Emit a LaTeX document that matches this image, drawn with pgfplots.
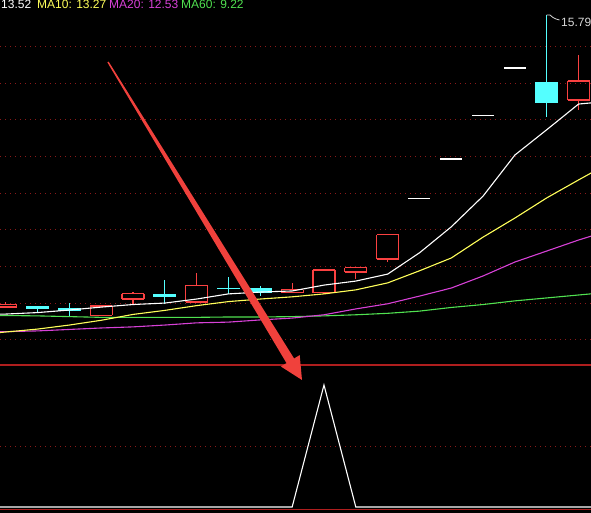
\documentclass[border=0pt]{standalone}
\usepackage{pgfplots}
\pgfplotsset{compat=1.18}
\usepackage{pgfplotstable}
\usepackage{fontspec}
\setmainfont{Liberation Sans}

\definecolor{upred}{RGB}{250,65,65}
\definecolor{downcyan}{RGB}{84,255,255}
\definecolor{gridred}{RGB}{140,25,25}
\definecolor{sepred}{RGB}{175,30,30}
\definecolor{maten}{RGB}{255,255,90}
\definecolor{matwenty}{RGB}{215,65,215}
\definecolor{masixty}{RGB}{80,225,80}
\definecolor{arrowred}{RGB}{240,65,60}
\definecolor{hilabel}{RGB}{215,215,215}

% daily candles: index, open, high, low, close
\pgfplotstableread{
i  O     H     L     C
0  7.82  7.96  7.82  7.90
3  7.60  7.85  7.60  7.85
4  8.04  8.23  7.88  8.18
6  7.96  8.75  7.96  8.42
9  8.21  8.48  8.21  8.29
10 8.21  8.83  8.18  8.83
11 8.78  8.89  8.59  8.89
12 9.13  9.80  9.05  9.80
18 13.47 14.70 13.20 13.99
}\upcandles

\pgfplotstableread{
i  O     H     L     C
1  7.85  7.85  7.66  7.77
2  7.80  7.93  7.58  7.71
5  8.18  8.56  7.91  8.10
7  8.34  8.64  8.18  8.31
8  8.34  8.40  8.13  8.21
17 13.96 15.79 13.01 13.39
}\downcandles

% one-price limit-up days
\pgfplotstableread{
i  P
13 10.78
14 11.86
15 13.05
16 14.35
}\flatcandles

% moving averages
\pgfplotstableread{
i  ma5   ma10  ma20  ma60
-1 7.61  7.06  7.14  7.60
0  7.63  7.14  7.15  7.59
1  7.67  7.22  7.17  7.58
2  7.74  7.33  7.21  7.56
3  7.82  7.46  7.25  7.54
4  7.89  7.62  7.28  7.54
5  7.93  7.73  7.33  7.54
6  8.04  7.86  7.39  7.54
7  8.18  7.97  7.41  7.55
8  8.23  8.04  7.47  7.55
9  8.26  8.10  7.52  7.56
10 8.42  8.18  7.61  7.58
11 8.53  8.29  7.77  7.61
12 8.72  8.48  7.91  7.65
13 9.30  8.81  8.12  7.71
14 10.01 9.16  8.34  7.81
15 10.85 9.73  8.67  7.89
16 11.97 10.25 9.05  7.99
17 12.66 10.80 9.35  8.07
18 13.36 11.29 9.65  8.15
19 13.44 11.77 9.92  8.23
}\malines

\pgfplotsset{
  panel/.style={
    scale only axis, width=591bp,
    xmin=-0.179, xmax=18.39, xtick=\empty,
    axis line style={draw=none}, major tick length=0pt,
    ymajorticks=false,
    ymajorgrids,
    major grid style={draw=gridred, line width=0.8bp, dash pattern=on 1bp off 4bp},
  },
  % vertical stroke from y upward by the y error
  vbar/.style 2 args={draw=none, mark=none, error bars/.cd, y dir=plus, y explicit,
    error mark=none, error bar style={draw=#1, line width=#2}},
  % horizontal stroke across the candle width
  hbar/.style 2 args={draw=none, mark=none, error bars/.cd, x dir=both, x fixed=0.345,
    error mark=none, error bar style={draw=#1, line width=#2}},
}

\begin{document}
\begin{tikzpicture}
\fill[black] (0,0) rectangle (591bp,513bp);

% price panel
\begin{axis}[panel, at={(0bp,148bp)}, anchor=south west, height=365bp,
  ymin=6.240, ymax=16.199,
  ytick={6.950,7.932,8.942,9.951,10.933,11.943,12.952,13.935,14.944}]

% rising candles: shadows below and above a hollow body
\addplot[vbar={upred}{1.2bp}]
  table[x=i, y=L, y error plus expr=\thisrow{O}-\thisrow{L}] {\upcandles};
\addplot[vbar={upred}{1.2bp}]
  table[x=i, y=C, y error plus expr=\thisrow{H}-\thisrow{C}] {\upcandles};
\addplot[vbar={upred}{1.2bp}]
  table[x expr=\thisrow{i}-0.345, y=O, y error plus expr=\thisrow{C}-\thisrow{O}] {\upcandles};
\addplot[vbar={upred}{1.2bp}]
  table[x expr=\thisrow{i}+0.345, y=O, y error plus expr=\thisrow{C}-\thisrow{O}] {\upcandles};
\addplot[hbar={upred}{1.2bp}] table[x=i, y=O] {\upcandles};
\addplot[hbar={upred}{1.2bp}] table[x=i, y=C] {\upcandles};

% falling candles: shadow and solid body
\addplot[vbar={downcyan}{1.1bp}]
  table[x=i, y=L, y error plus expr=\thisrow{H}-\thisrow{L}] {\downcandles};
\addplot[vbar={downcyan}{23bp}]
  table[x=i, y=C, y error plus expr=\thisrow{O}-\thisrow{C}] {\downcandles};

% one-price bars
\addplot[hbar={white}{1.5bp}] table[x=i, y=P] {\flatcandles};

% moving averages
\addplot[masixty, line width=1.1bp] table[x=i, y=ma60] {\malines};
\addplot[matwenty, line width=1.1bp] table[x=i, y=ma20] {\malines};
\addplot[maten, line width=1.1bp] table[x=i, y=ma10] {\malines};
\addplot[white, line width=1.1bp] table[x=i, y=ma5] {\malines};
\end{axis}

% signal panel
\begin{axis}[panel, at={(0bp,3bp)}, anchor=south west, height=145bp,
  ymin=-0.0246, ymax=1.1639, ytick={0.5}]
\addplot[white, line width=1.1bp] coordinates {
  (-1,0) (0,0) (1,0) (2,0) (3,0) (4,0) (5,0) (6,0) (7,0) (8,0) (9,0)
  (10,1) (11,0) (12,0) (13,0) (14,0) (15,0) (16,0) (17,0) (18,0) (19,0)};
\end{axis}

\begin{scope}[x=1bp, y=1bp]
  % panel separators
  \draw[sepred, line width=1.3bp] (0,148) -- (591,148);
  \draw[sepred, line width=1.3bp] (0,3.7) -- (591,3.7);

  % moving-average readout
  \begin{scope}[font=\fontsize{12bp}{14bp}\selectfont]
    \node[anchor=base west, inner sep=0, text=white]    at (1,504)   {13.52};
    \node[anchor=base west, inner sep=0, text=maten]    at (37,504)  {MA10: 13.27};
    \node[anchor=base west, inner sep=0, text=matwenty] at (109,504) {MA20: 12.53};
    \node[anchor=base west, inner sep=0, text=masixty]  at (181,504) {MA60: 9.22};
    % period high
    \node[anchor=base west, inner sep=0, text=hilabel]  at (561,486) {15.79};
  \end{scope}
  \draw[hilabel, line width=0.8bp] (546.5,498) -- (550,498) -- (553,495.5) -- (556,494) -- (559.5,493);

  % pointer arrow
  \fill[arrowred] (108.6,451.4) -- (294.1,154.5) -- (299.7,157.9) -- (302,133)
    -- (280.9,146.5) -- (286.5,149.9) -- (107.4,450.6) -- cycle;
\end{scope}

\pgfresetboundingbox
\useasboundingbox (0,0) rectangle (591bp,513bp);
\end{tikzpicture}
\end{document}
